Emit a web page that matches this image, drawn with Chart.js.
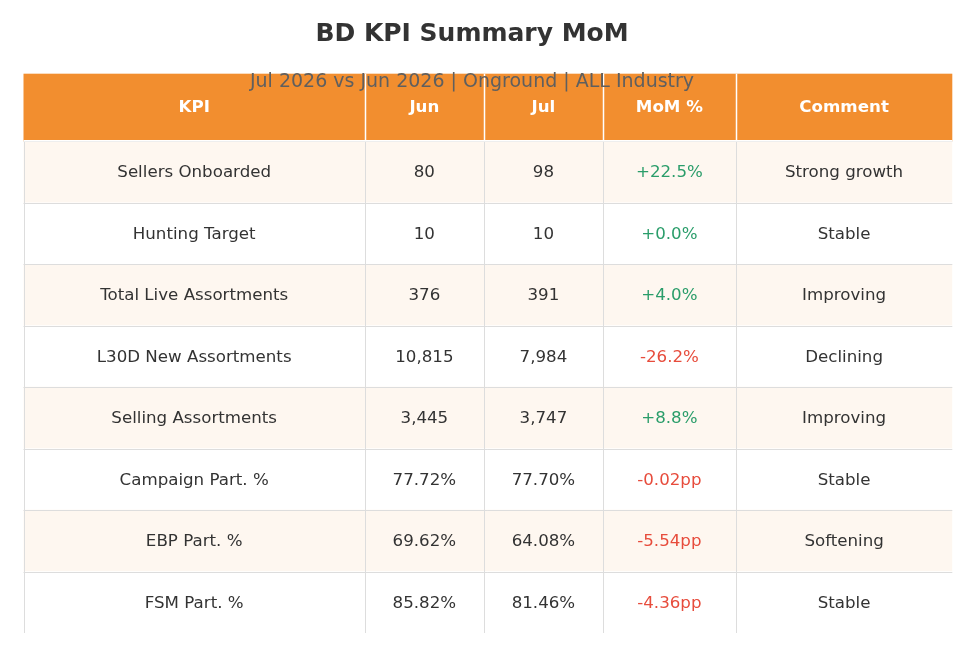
<!DOCTYPE html>
<html>
<head>
<meta charset="utf-8">
<script src="https://cdn.jsdelivr.net/npm/chart.js@4.4.1/dist/chart.umd.min.js"></script>
<style>
  html, body { margin: 0; padding: 0; background: #ffffff; }
  #wrap { width: 975px; height: 656px; position: relative; }
</style>
</head>
<body>
<div id="wrap"><canvas id="c"></canvas></div>
<script>
const titleText = "BD KPI Summary MoM";
const subtitleText = "Jul 2026 vs Jun 2026 | Onground | ALL Industry";
const headers = ["KPI", "Jun", "Jul", "MoM %", "Comment"];
const kpis = ["Sellers Onboarded", "Hunting Target", "Total Live Assortments", "L30D New Assortments",
              "Selling Assortments", "Campaign Part. %", "EBP Part. %", "FSM Part. %"];
const junValues = ["80", "10", "376", "10,815", "3,445", "77.72%", "69.62%", "85.82%"];
const julValues = ["98", "10", "391", "7,984", "3,747", "77.70%", "64.08%", "81.46%"];
const momValues = ["+22.5%", "+0.0%", "+4.0%", "-26.2%", "+8.8%", "-0.02pp", "-5.54pp", "-4.36pp"];
const comments = ["Strong growth", "Stable", "Improving", "Declining", "Improving", "Stable", "Softening", "Stable"];

// layout / style config
const colEdges = [0, 0.3675, 0.4957, 0.6238, 0.767, 1];
const FONT = "'DejaVu Sans', sans-serif";
const ORANGE = "#F28E2F";
const CREAM = "#FEF7F0";
const GRID = "#DDDDDD";
const TXT = "#333333";
const GREEN = "#2A9D6A";
const RED = "#E74C3C";
const TITLE_CENTER_X = 472;

const columns = [kpis, junValues, julValues, momValues, comments];

const tablePlugin = {
  id: 'tablePlugin',
  beforeDraw(chart) {
    const ctx = chart.ctx;
    ctx.save();
    ctx.fillStyle = '#ffffff';
    ctx.fillRect(0, 0, chart.width, chart.height);
    ctx.restore();
  },
  afterDatasetsDraw(chart) {
    const ctx = chart.ctx;
    const xs = chart.scales.x, ys = chart.scales.y;
    const area = chart.chartArea;
    const rowH = (area.bottom - area.top) / kpis.length;
    const headH = rowH * 1.1;
    const headTop = area.top - headH;
    const xe = colEdges.map(v => xs.getPixelForValue(v));
    ctx.save();

    // header background
    ctx.fillStyle = ORANGE;
    ctx.fillRect(xe[0], headTop, xe[xe.length - 1] - xe[0], headH);

    // body grid lines
    ctx.strokeStyle = GRID;
    ctx.lineWidth = 1;
    ctx.beginPath();
    for (let i = 0; i < kpis.length; i++) {
      const yTop = Math.round(ys.getPixelForValue(i) - rowH / 2) + 0.5;
      ctx.moveTo(xe[0], yTop);
      ctx.lineTo(xe[xe.length - 1], yTop);
    }
    for (let j = 0; j < xe.length - 1; j++) {
      const x = Math.round(xe[j]) + 0.5;
      ctx.moveTo(x, area.top);
      ctx.lineTo(x, area.bottom);
    }
    ctx.stroke();

    // header white separators
    ctx.strokeStyle = '#ffffff';
    ctx.lineWidth = 1.5;
    ctx.beginPath();
    for (let j = 1; j < xe.length - 1; j++) {
      const x = Math.round(xe[j]) + 0.5;
      ctx.moveTo(x, headTop);
      ctx.lineTo(x, area.top);
    }
    ctx.moveTo(xe[0], area.top - 0.5);
    ctx.lineTo(xe[xe.length - 1], area.top - 0.5);
    ctx.stroke();

    // header text
    ctx.textAlign = 'center';
    ctx.textBaseline = 'middle';
    ctx.fillStyle = '#ffffff';
    ctx.font = "bold 16.67px " + FONT;
    for (let j = 0; j < headers.length; j++) {
      const cx = (xe[j] + xe[j + 1]) / 2;
      ctx.fillText(headers[j], cx, headTop + headH / 2);
    }

    // body text
    ctx.font = "16.67px " + FONT;
    for (let i = 0; i < kpis.length; i++) {
      const cy = ys.getPixelForValue(i) + 1;
      for (let j = 0; j < columns.length; j++) {
        const cx = (xe[j] + xe[j + 1]) / 2;
        const s = columns[j][i];
        if (j === 3) ctx.fillStyle = s.startsWith('-') ? RED : GREEN;
        else ctx.fillStyle = TXT;
        ctx.fillText(s, cx, cy);
      }
    }

    // title & subtitle
    ctx.fillStyle = TXT;
    ctx.font = "bold 25px " + FONT;
    ctx.fillText(titleText, TITLE_CENTER_X, 34);
    ctx.fillStyle = "#5f5f5f";
    ctx.font = "19px " + FONT;
    ctx.fillText(subtitleText, TITLE_CENTER_X, 82);

    ctx.restore();
  }
};

new Chart(document.getElementById('c'), {
  type: 'bar',
  data: {
    labels: kpis,
    datasets: [{
      data: kpis.map(() => [0, 1]),
      backgroundColor: kpis.map((_, i) => i % 2 === 0 ? CREAM : '#ffffff'),
      borderWidth: 0,
      barPercentage: 1,
      categoryPercentage: 1
    }]
  },
  options: {
    indexAxis: 'y',
    responsive: true,
    maintainAspectRatio: false,
    animation: false,
    layout: { padding: { left: 23.5, right: 22.7, top: 141.3, bottom: 23 } },
    scales: {
      x: { type: 'linear', min: 0, max: 1, display: false },
      y: { type: 'category', display: false, offset: true }
    },
    plugins: { legend: { display: false }, tooltip: { enabled: false }, title: { display: false } }
  },
  plugins: [tablePlugin]
});
</script>
</body>
</html>
